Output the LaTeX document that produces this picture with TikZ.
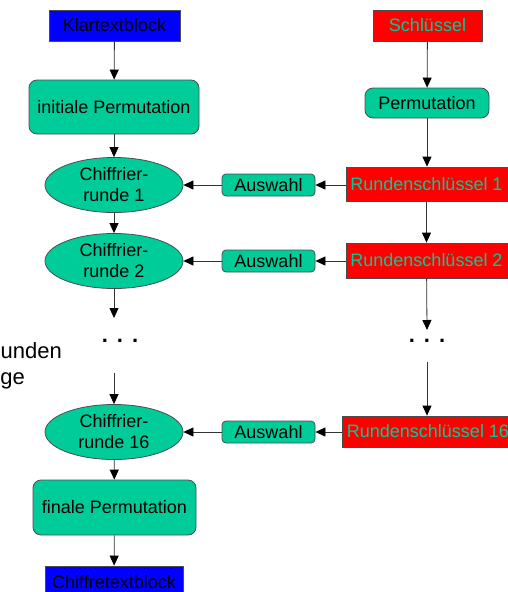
\documentclass[tikz,border=0pt]{standalone}
\usepackage{fontspec}
\setmainfont{Liberation Sans}
\usetikzlibrary{arrows.meta,shapes.geometric}
\definecolor{mint}{HTML}{00CC99}
\definecolor{keyred}{HTML}{FF0000}
\definecolor{blockblue}{HTML}{0000FF}
\begin{document}
\begin{tikzpicture}[x=1pt,y=-1pt,
  every node/.style={font=\fontsize{18}{21}\selectfont, inner sep=0pt},
  boxline/.style={draw=black!70, line width=0.8pt},
  datablock/.style={boxline, fill=blockblue, text=black},
  keyblock/.style={boxline, fill=keyred, text=mint},
  procbox/.style={boxline, fill=mint, rounded corners=8pt, text=black},
  roundell/.style={boxline, fill=mint, ellipse, minimum width=138pt,
    minimum height=55pt, align=center},
  pick/.style={boxline, fill=mint, rounded corners=4pt, minimum width=93pt,
    minimum height=22pt},
  flow/.style={draw=black!80, line width=0.8pt,
    -{Triangle[length=10pt,width=9pt,color=black]}},
  gap/.style={font=\fontsize{22}{26}\selectfont\bfseries, anchor=base},
  note/.style={font=\fontsize{22}{26}\selectfont, anchor=base east}
]
\useasboundingbox (0,0) rectangle (508,592);

% data path
\node[datablock, minimum width=131pt, minimum height=31pt] (plain) at (114.5,25.5) {Klartextblock};
\node[procbox, minimum width=170pt, minimum height=54pt] (ip) at (114,107) {initiale Permutation};
\node[roundell] (r1) at (114,185) {Chiffrier-\\runde 1};
\node[roundell] (r2) at (114,261) {Chiffrier-\\runde 2};
\node[gap] (ldots) at (120,342) {.\hspace{9pt}.\hspace{9pt}.};
\coordinate (lgapin) at (114,318);
\coordinate (lgapout) at (114,373);
\node[roundell] (r16) at (114,432) {Chiffrier-\\runde 16};
\node[procbox, minimum width=163pt, minimum height=55pt] (fp) at (114.5,507.5) {finale Permutation};
\node[datablock, minimum width=138pt, minimum height=32pt] (cipher) at (114,582) {Chiffretextblock};

\node[note] (note1) at (62,358) {unden};
\node[note] (note2) at (25,384) {ge};

% key schedule
\node[keyblock, minimum width=109pt, minimum height=31pt] (key) at (427.5,25.5) {Schlüssel};
\node[procbox, minimum width=124pt, minimum height=30pt] (kp) at (427,103) {Permutation};
\node[keyblock, minimum width=161pt, minimum height=34pt] (k1) at (426.5,184) {Rundenschlüssel 1};
\node[keyblock, minimum width=161pt, minimum height=35pt] (k2) at (426.5,260.5) {Rundenschlüssel 2};
\node[gap] (rdots) at (427,342) {.\hspace{9pt}.\hspace{9pt}.};
\coordinate (rgapin) at (427,330);
\coordinate (rgapout) at (427,362);
\node[keyblock, minimum width=172pt, minimum height=31pt] (k16) at (428,431.5) {Rundenschlüssel 16};

% subkey selection
\node[pick] (s1) at (268.5,185) {Auswahl};
\node[pick] (s2) at (268.5,261) {Auswahl};
\node[pick] (s16) at (268.5,432) {Auswahl};

% connectors
\draw[flow] (plain) -- (ip);
\draw[flow] (ip) -- (r1);
\draw[flow] (r1) -- (r2);
\draw[flow] (r2) -- (lgapin);
\draw[flow] (lgapout) -- (r16);
\draw[flow] (r16) -- (fp);
\draw[flow] (fp) -- (cipher);

\draw[flow] (key) -- (kp);
\draw[flow] (kp) -- (kp |- k1.north);
\draw[flow] (k1) -- (k2);
\draw[flow] (k2) -- (rgapin);
\draw[flow] (rgapout) -- (rgapout |- k16.north);

\draw[flow] (k1.west |- s1) -- (s1.east);
\draw[flow] (s1.west) -- (r1.east);
\draw[flow] (k2.west |- s2) -- (s2.east);
\draw[flow] (s2.west) -- (r2.east);
\draw[flow] (k16.west |- s16) -- (s16.east);
\draw[flow] (s16.west) -- (r16.east);
\end{tikzpicture}
\end{document}
